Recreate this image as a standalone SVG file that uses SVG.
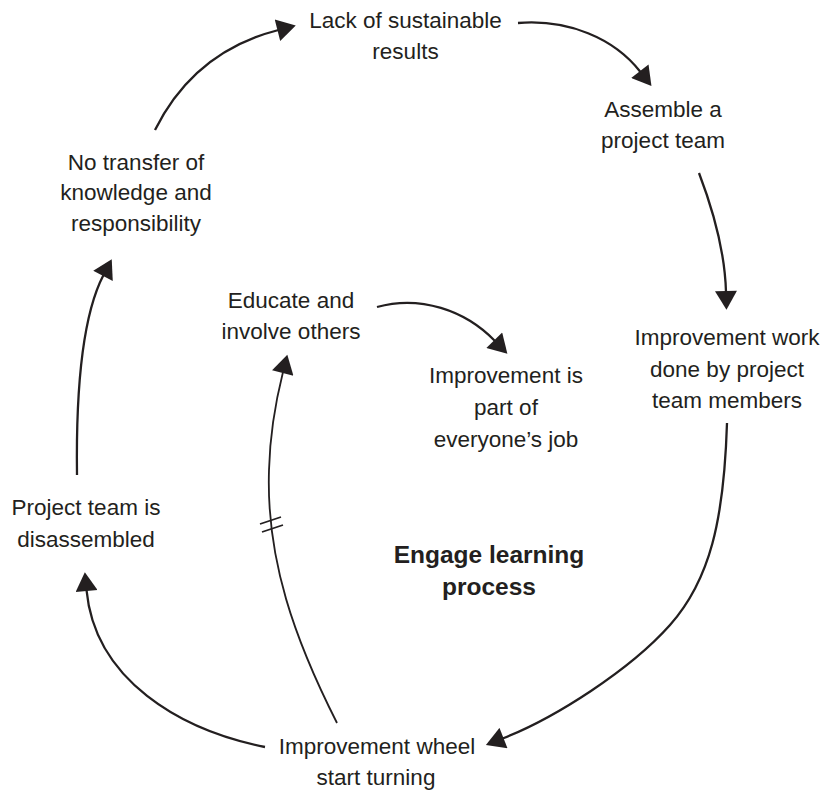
<svg xmlns="http://www.w3.org/2000/svg" width="827" height="794" viewBox="0 0 827 794">
<defs>
<style>
.t{font-family:"Liberation Sans",Arial,sans-serif;font-size:22.5px;fill:#231f20;text-anchor:middle}
.b{font-family:"Liberation Sans",Arial,sans-serif;font-size:24.5px;font-weight:bold;fill:#231f20;text-anchor:middle}
.c{fill:none;stroke:#231f20;stroke-width:2.3}
.thin{stroke-width:1.8}
</style>
<marker id="ah" markerUnits="userSpaceOnUse" markerWidth="20" markerHeight="22" viewBox="0 0 18 21" refX="1" refY="10.5" orient="auto">
<path d="M0,0 L18,10.5 L0,21 z" fill="#231f20"/>
</marker>
</defs>
<rect width="827" height="794" fill="#ffffff"/>
<g id="connectors">
<path class="c" d="M518,23 C568,19 614,38 640.5,72" marker-end="url(#ah)"/>
<path class="c" d="M699,173 C715,215 725,255 726,292" marker-end="url(#ah)"/>
<path class="c" d="M727,423 C724,520 710,580 670,625 C630,670 555,718 502.5,738.5" marker-end="url(#ah)"/>
<path class="c" d="M265,747 C180,730 95,680 86.5,590" marker-end="url(#ah)"/>
<path class="c" d="M77,475 C76,400 80,320 103.5,275" marker-end="url(#ah)"/>
<path class="c" d="M155,130 C180,80 220,45 278.5,30" marker-end="url(#ah)"/>
<path class="c thin" d="M337,723 C295,640 266,560 269,470 C270,430 276,400 283,372" marker-end="url(#ah)"/>
<path class="c" d="M377,307 C420,295 465,310 495,341" marker-end="url(#ah)"/>
<line class="c thin" x1="260" y1="524" x2="281" y2="517"/>
<line class="c thin" x1="262" y1="532" x2="283" y2="525"/>
</g>
<g id="lack"><text class="t" x="405.5" y="28">Lack of sustainable</text><text class="t" x="405.5" y="59">results</text></g>
<g id="assemble"><text class="t" x="663" y="117">Assemble a</text><text class="t" x="663" y="148">project team</text></g>
<g id="work"><text class="t" x="727" y="345">Improvement work</text><text class="t" x="727" y="377">done by project</text><text class="t" x="727" y="408">team members</text></g>
<g id="wheel"><text class="t" x="377" y="754">Improvement wheel</text><text class="t" x="376" y="785">start turning</text></g>
<g id="disassembled"><text class="t" x="86" y="515">Project team is</text><text class="t" x="86" y="547">disassembled</text></g>
<g id="notransfer"><text class="t" x="136" y="170">No transfer of</text><text class="t" x="136" y="200">knowledge and</text><text class="t" x="136" y="231">responsibility</text></g>
<g id="educate"><text class="t" x="291" y="308">Educate and</text><text class="t" x="291" y="339">involve others</text></g>
<g id="part"><text class="t" x="506" y="383">Improvement is</text><text class="t" x="506" y="415">part of</text><text class="t" x="506" y="447">everyone’s job</text></g>
<g id="engage"><text class="b" x="489" y="563">Engage learning</text><text class="b" x="489" y="595">process</text></g>
</svg>
